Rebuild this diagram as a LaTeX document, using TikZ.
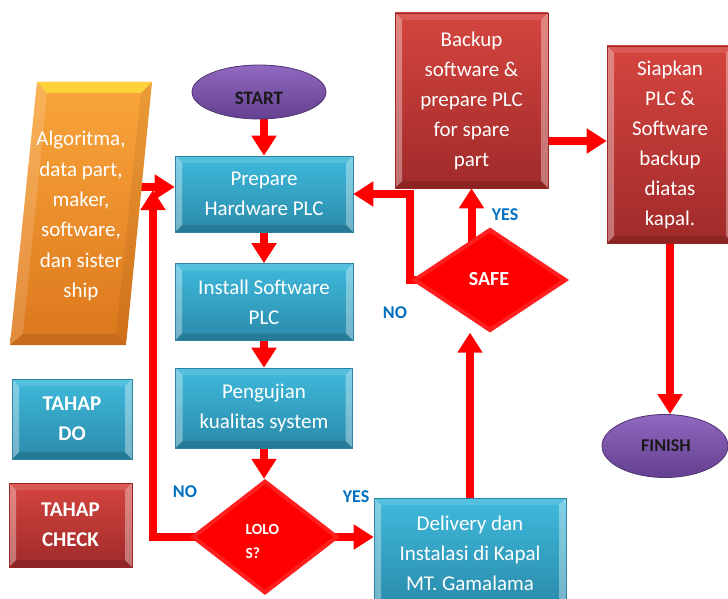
\documentclass[tikz,border=0pt]{standalone}
\usepackage{fontspec}
\setmainfont{Carlito}
\usetikzlibrary{shapes.geometric,arrows.meta,calc,backgrounds}
\definecolor{bluetop}{HTML}{3FBADC}
\definecolor{bluebot}{HTML}{2A8AAA}
\definecolor{blueedge}{HTML}{2A84A2}
\definecolor{redtop}{HTML}{D5453F}
\definecolor{redbot}{HTML}{A02A2A}
\definecolor{rededge}{HTML}{9A2626}
\definecolor{orangetop}{HTML}{FAA63C}
\definecolor{orangebot}{HTML}{DC771C}
\definecolor{orangelight}{HTML}{FFE23A}
\definecolor{purptop}{HTML}{9068C0}
\definecolor{purpbot}{HTML}{64408F}
\definecolor{labelblue}{HTML}{0070C0}
\definecolor{arrowred}{HTML}{FF0000}
\begin{document}
\begin{tikzpicture}[x=1pt,y=-1pt,
  bevel/.style={path picture={
    \fill[white,opacity=0.35] (path picture bounding box.north west) -- ++(7pt,-7pt) -- ($(path picture bounding box.south west)+(7pt,7pt)$) -- (path picture bounding box.south west) -- cycle;
    \fill[white,opacity=0.35] (path picture bounding box.north east) -- ++(-7pt,-7pt) -- ($(path picture bounding box.south east)+(-7pt,7pt)$) -- (path picture bounding box.south east) -- cycle;
    \fill[white,opacity=0.12] (path picture bounding box.north west) -- ++(7pt,-7pt) -- ($(path picture bounding box.north east)+(-7pt,-7pt)$) -- (path picture bounding box.north east) -- cycle;
    \fill[black,opacity=0.12] (path picture bounding box.south west) -- ++(7pt,7pt) -- ($(path picture bounding box.south east)+(-7pt,7pt)$) -- (path picture bounding box.south east) -- cycle;
  }},
  dbevel/.style={path picture={
    \draw[white,opacity=0.12,line width=8pt] (path picture bounding box.north) -- (path picture bounding box.east) -- (path picture bounding box.south) -- (path picture bounding box.west) -- cycle;
  }},
  boxtext/.style={text=white, align=center, inner sep=0pt, font=\fontsize{21}{30}\selectfont},
  bluebox/.style={rectangle, top color=bluetop, bottom color=bluebot, draw=blueedge, line width=0.6pt, bevel, boxtext},
  redbox/.style={rectangle, top color=redtop, bottom color=redbot, draw=rededge, line width=0.6pt, bevel, boxtext},
  oval/.style={ellipse, top color=purptop, bottom color=purpbot, draw=purpbot!80!black, line width=0.8pt, inner sep=0pt},
  ovaltext/.style={text=black!90, font=\bfseries\fontsize{18}{20}\selectfont},
  decision/.style={diamond, fill=arrowred, inner sep=0pt, dbevel},
  arr/.style={draw=arrowred, line width=8pt, -{Triangle[width=24pt,length=20pt]}},
  lbl/.style={text=labelblue, font=\bfseries\fontsize{18}{20}\selectfont},
]
\useasboundingbox (0,0) rectangle (728,599);
\begin{pgfonlayer}{background}
\fill[white] (0,0) rectangle (728,599);
\end{pgfonlayer}

% input parallelogram
\path[top color=orangetop, bottom color=orangebot] (37,82) -- (152,82) -- (126,345) -- (10,345) -- cycle;
\fill[orangelight, opacity=0.75] (37,82) -- (152,82) -- (141,93) -- (47,93) -- cycle;
\fill[white, opacity=0.15] (37,82) -- (47,93) -- (23,334) -- (10,345) -- cycle;
\fill[black, opacity=0.06] (152,82) -- (141,93) -- (116,334) -- (126,345) -- cycle;
\fill[black, opacity=0.10] (10,345) -- (23,334) -- (116,334) -- (126,345) -- cycle;
\node[boxtext, font=\fontsize{21}{30.4}\selectfont] (para) at (81,216) {Algoritma,\\data part,\\maker,\\software,\\dan sister\\ship};

% start / finish
\node[oval, minimum width=134pt, minimum height=54pt] (start) at (259,92) {};
\node[ovaltext, font=\bfseries\fontsize{19}{20}\selectfont] (startt) at (259,98) {START};
\node[oval, minimum width=126pt, minimum height=63pt] (finish) at (665,446) {};
\node[ovaltext] (finisht) at (666,446) {FINISH};

% process boxes
\node[bluebox, minimum width=178pt, minimum height=76pt] (prep) at (264,194) {Prepare\\Hardware PLC};
\node[bluebox, minimum width=178pt, minimum height=77pt] (inst) at (264,302) {Install Software\\PLC};
\node[bluebox, minimum width=177pt, minimum height=80pt] (peng) at (264,408) {Pengujian\\kualitas system};
\node[bluebox, minimum width=192pt, minimum height=110pt] (deliv) at (470,553) {Delivery dan\\Instalasi di Kapal\\MT. Gamalama};
\node[redbox, minimum width=153pt, minimum height=175pt] (backup) at (471.5,100.5) {Backup\\software \&\\prepare PLC\\for spare\\part};
\node[redbox, minimum width=126pt, minimum height=197pt] (siap) at (670,144.5) {Siapkan\\PLC \&\\Software\\backup\\diatas\\kapal.};

% legend
\node[bluebox, font=\bfseries\fontsize{21}{30}\selectfont, minimum width=120pt, minimum height=80pt] (tahapdo) at (72,419) {TAHAP\\DO};
\node[redbox, font=\bfseries\fontsize{21}{30}\selectfont, minimum width=123pt, minimum height=84pt] (tahapcheck) at (70.5,525) {TAHAP\\CHECK};

% decisions
\node[decision, minimum width=150pt, minimum height=116pt] (lolos) at (265,537) {};
\node[text=white, align=left, anchor=west, font=\bfseries\fontsize{15.5}{24}\selectfont] (lolost) at (242,541) {LOLO\\S?};
\node[decision, minimum width=158pt, minimum height=105pt] (safe) at (490,280) {};
\node[text=white, font=\bfseries\fontsize{20}{22}\selectfont] (safet) at (489,279) {SAFE};

% connectors
\coordinate (notip) at (153,190);
\coordinate (paraR) at (140,187);
\coordinate (safecorner) at (410,280);
\coordinate (bk) at (548,141);
\begin{pgfonlayer}{background}
\draw[arr] (start.south -| prep.north) -- (prep.north);
\draw[arr] (prep.south) -- (inst.north);
\draw[arr] (inst.south) -- (peng.north);
\draw[arr] (peng.south) -- (peng.south |- lolos.north);
\draw[arr] (lolos.center) -- (lolos.east -| deliv.west);
\draw[arr] (lolos.center) -| (notip);
\draw[arr] (paraR) -- (paraR -| prep.west);
\draw[arr] (deliv.north) -- (deliv.north |- safe.south);
\draw[arr] (safe.center -| backup.south) -- (backup.south);
\draw[arr] (safe.center) -- (safecorner) |- (prep.east);
\draw[arr] (bk) -- (bk -| siap.west);
\draw[arr] (siap.south) -- (siap.south |- finish.north);
\end{pgfonlayer}

% labels
\node[lbl] (yes1) at (356,497) {YES};
\node[lbl] (no1) at (185,492) {NO};
\node[lbl] (yes2) at (505,215) {YES};
\node[lbl] (no2) at (395,313) {NO};
\end{tikzpicture}
\end{document}
